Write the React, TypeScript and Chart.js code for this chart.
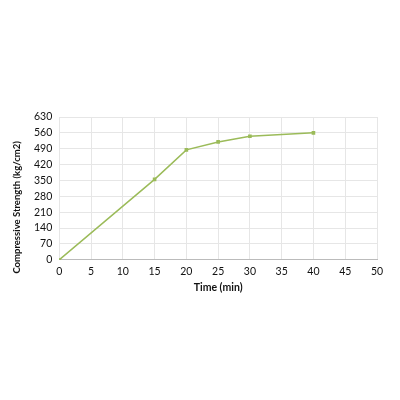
import React, { useEffect, useRef } from "react";
import { Chart, registerables } from "chart.js";
Chart.register(...registerables);

const times = [0, 15, 20, 25, 30, 40];
const strength = [0, 355, 485, 520, 545, 560];
const xTitle = "Time (min)";
const yTitle = "Compressive Strength (kg/cm2)";

const yTitlePlugin = {
  id: "yTitleShifted",
  afterDraw(chart: any) {
    const { ctx, chartArea } = chart;
    ctx.save();
    ctx.font = "bold 9.5px Lato";
    ctx.fillStyle = "#111";
    ctx.textAlign = "center";
    ctx.textBaseline = "middle";
    ctx.translate(17, (chartArea.top + chartArea.bottom) / 2 + 19);
    ctx.rotate(-Math.PI / 2);
    ctx.fillText(yTitle, 0, 0);
    ctx.restore();
  },
};

export default function App() {
  const ref = useRef<HTMLCanvasElement>(null);
  useEffect(() => {
    const ctx = ref.current!;
    const chart = new Chart(ctx, {
      type: "scatter",
      data: {
        datasets: [
          {
            data: times.map((t, i) => ({ x: t, y: strength[i] })),
            showLine: true,
            borderColor: "#9bbb59",
            backgroundColor: "#9bbb59",
            borderWidth: 1.5,
            pointRadius: 1.5,
            pointStyle: "rect",
            tension: 0,
          },
        ],
      },
      options: {
        animation: false,
        responsive: false,
        maintainAspectRatio: false,
        plugins: { legend: { display: false }, tooltip: { enabled: false } },
        layout: { padding: { top: 117, bottom: 106, left: 27, right: 23 } },
        scales: {
          x: {
            type: "linear",
            min: 0,
            max: 50,
            ticks: { stepSize: 5, color: "#111", font: { family: "Lato", size: 10.5 }, padding: 6 },
            grid: { color: "#e6e6e6", drawTicks: false },
            border: { color: "#bbbbbb" },
            title: { display: true, text: xTitle, color: "#111", font: { family: "Lato", size: 10.5, weight: "bold" }, padding: { top: -3, bottom: 0 } },
          },
          y: {
            min: 0,
            max: 630,
            ticks: { stepSize: 70, color: "#111", font: { family: "Lato", size: 10.5 }, padding: 7 },
            grid: { color: "#e6e6e6", drawTicks: false },
            border: { display: false },
            title: { display: false },
          },
        },
      },
      plugins: [yTitlePlugin],
    });
    return () => chart.destroy();
  }, []);
  return (
    <div style={{ position: "fixed", left: 0, top: 0, width: 400, height: 400, background: "#fff" }}>
      <canvas ref={ref} width={400} height={400} style={{ width: 400, height: 400 }} />
    </div>
  );
}
